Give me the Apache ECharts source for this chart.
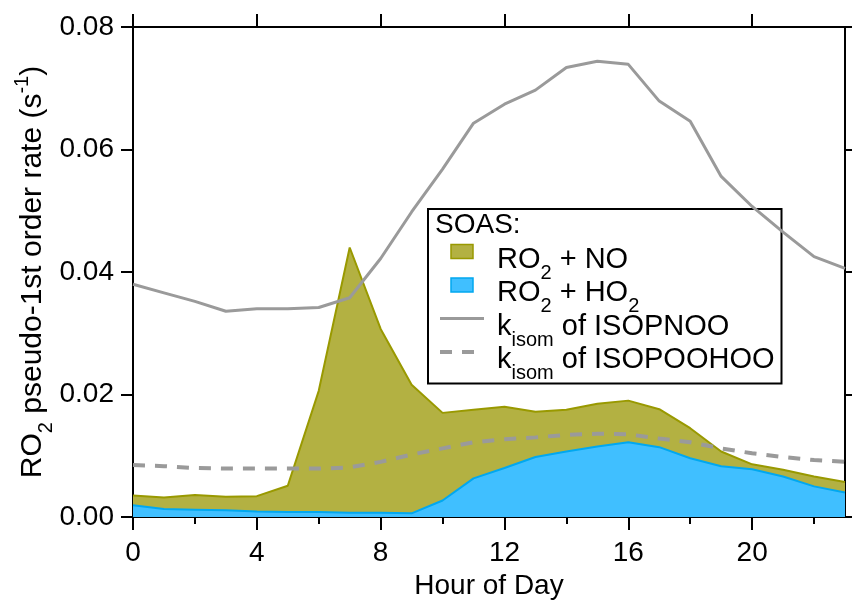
<!DOCTYPE html>
<html>
<head>
<meta charset="utf-8">
<script src="https://cdn.jsdelivr.net/npm/echarts@6/dist/echarts.min.js"></script>
<style>
    html, body { margin: 0; padding: 0; background: #fff; }
    #chart { width: 852px; height: 604px; }
</style>
</head>
<body>
<div id="chart"></div>
<script>
// Hour of day
const hours = [0, 1, 2, 3, 4, 5, 6, 7, 8, 9, 10, 11, 12, 13, 14, 15, 16, 17, 18, 19, 20, 21, 22, 23];

// SOAS RO2 + NO (top of olive area)
const ro2No = [0.0035, 0.0032, 0.0036, 0.0033, 0.0034, 0.0051, 0.0206, 0.0440, 0.0307, 0.0216, 0.0170, 0.0175,
    0.0180, 0.0172, 0.0175, 0.0185, 0.0190, 0.0176, 0.0145, 0.0107, 0.0086, 0.0077, 0.0066, 0.0057];

// SOAS RO2 + HO2 (blue area)
const ro2Ho2 = [0.0019, 0.0013, 0.0012, 0.0011, 0.0009, 0.0008, 0.0008, 0.0007, 0.0007, 0.0006, 0.0027, 0.0063,
    0.0080, 0.0098, 0.0107, 0.0115, 0.0122, 0.0114, 0.0096, 0.0083, 0.0078, 0.0066, 0.0050, 0.0040];

// k_isom of ISOPNOO
const kIsopnoo = [0.0380, 0.0366, 0.0352, 0.0336, 0.0340, 0.0340, 0.0342, 0.0358, 0.0422, 0.0498, 0.0568, 0.0643,
    0.0674, 0.0697, 0.0734, 0.0744, 0.0739, 0.0679, 0.0646, 0.0556, 0.0507, 0.0465, 0.0425, 0.0406];

// k_isom of ISOPOOHOO
const kIsopoohoo = [0.0085, 0.0083, 0.0080, 0.0079, 0.0079, 0.0079, 0.0079, 0.0081, 0.0090, 0.0102, 0.0112, 0.0122,
    0.0127, 0.0130, 0.0134, 0.0136, 0.0135, 0.0128, 0.0122, 0.0112, 0.0104, 0.0098, 0.0093, 0.0090];

// Tick values
const xMajorTicks = [0, 4, 8, 12, 16, 20];
const xMinorTicks = [0, 2, 4, 6, 8, 10, 12, 14, 16, 18, 20, 22];
const yTicks = [0, 0.02, 0.04, 0.06, 0.08];

const FONT = 'Liberation Sans, Arial, Helvetica, sans-serif';
const GRAY = '#9a9a9a';

const pairs = function (vals) {
    return hours.map((h, i) => [h, vals[i]]);
};

// rich text pieces for subscripts / superscripts (axis name)
const richAxis = {
    a: { fontSize: 30, lineHeight: 30, padding: [8, 0, 0, 0], verticalAlign: 'top', fontFamily: FONT, color: '#000' },
    s: { fontSize: 20, lineHeight: 20, padding: [26, 0, 0, 0], verticalAlign: 'top', fontFamily: FONT, color: '#000' },
    p: { fontSize: 20, lineHeight: 20, padding: [2, 0, 0, 0], verticalAlign: 'top', fontFamily: FONT, color: '#000' }
};

// legend
const richLegend = {
    a: { fontSize: 29, lineHeight: 29, padding: [8, 0, 0, 0], verticalAlign: 'top', fontFamily: FONT, color: '#000' },
    s: { fontSize: 20, lineHeight: 20, padding: [26, 0, 0, 0], verticalAlign: 'top', fontFamily: FONT, color: '#000' }
};

const legendLabels = {
    'RO2 + NO': '{a|RO}{s|2}{a| + NO}',
    'RO2 + HO2': '{a|RO}{s|2}{a| + HO}{s|2}',
    'kisom of ISOPNOO': '{a|k}{s|isom}{a| of ISOPNOO}',
    'kisom of ISOPOOHOO': '{a|k}{s|isom}{a| of ISOPOOHOO}'
};

const chart = echarts.init(document.getElementById('chart'), null, { renderer: 'canvas' });

const baseX = {
    type: 'value',
    min: 0,
    max: 23,
    gridIndex: 0,
    splitLine: { show: false },
    axisLine: { show: false },
    axisLabel: { show: false },
    axisTick: { inside: false, lineStyle: { color: '#000', width: 2 } }
};

chart.setOption({
    animation: false,
    backgroundColor: '#fff',
    textStyle: { fontFamily: FONT },

    title: {
        text: 'SOAS:',
        left: 435,
        top: 211,
        padding: 0,
        textStyle: { fontSize: 28, fontWeight: 'normal', color: '#000', fontFamily: FONT }
    },

    grid: { left: 133, right: 7, top: 27, bottom: 87, containLabel: false, outerBoundsMode: 'none' },

    legend: {
        orient: 'vertical',
        left: 428,
        top: 209,
        padding: [28, 7, 0, 10],
        itemGap: -12.5,
        itemWidth: 44,
        itemHeight: 14,
        borderColor: '#000',
        borderWidth: 2,
        backgroundColor: '#fff',
        selectedMode: false,
        formatter: name => legendLabels[name],
        textStyle: { color: '#000', fontFamily: FONT, padding: [0, 0, 0, 8], rich: richLegend },
        data: [
            { name: 'RO2 + NO', icon: 'path://M0,0H22V14H0Z',
              itemStyle: { color: '#b3b142', borderColor: '#999900', borderWidth: 1.5, opacity: 1 } },
            { name: 'RO2 + HO2', icon: 'path://M0,0H22V14H0Z',
              itemStyle: { color: '#40bfff', borderColor: '#00a8f0', borderWidth: 1.5, opacity: 1 } },
            { name: 'kisom of ISOPNOO', itemStyle: { opacity: 0 },
              lineStyle: { color: GRAY, width: 3, type: 'solid' } },
            { name: 'kisom of ISOPOOHOO', itemStyle: { opacity: 0 },
              lineStyle: { color: GRAY, width: 4, type: [12, 10] } }
        ]
    },

    xAxis: [
        // bottom, major ticks + labels
        Object.assign({}, baseX, {
            position: 'bottom',
            interval: 4,
            axisLine: { show: true, onZero: false, lineStyle: { color: '#000', width: 2 } },
            axisTick: { inside: false, length: 13, customValues: xMajorTicks, lineStyle: { color: '#000', width: 2 } },
            axisLabel: {
                show: true, fontSize: 28, color: '#000', margin: 22, fontFamily: FONT,
                customValues: xMajorTicks,
                formatter: v => (v % 4 === 0 ? String(v) : '')
            },
            name: 'Hour of Day',
            nameLocation: 'middle',
            nameGap: 52,
            nameTextStyle: { fontSize: 28, color: '#000', fontFamily: FONT }
        }),
        // bottom, minor ticks
        Object.assign({}, baseX, {
            position: 'bottom',
            interval: 2,
            axisTick: { inside: false, length: 7, customValues: xMinorTicks, lineStyle: { color: '#000', width: 2 } }
        }),
        // top, major ticks
        Object.assign({}, baseX, {
            position: 'top',
            interval: 4,
            axisLine: { show: true, onZero: false, lineStyle: { color: '#000', width: 2 } },
            axisTick: { inside: false, length: 13, customValues: xMajorTicks, lineStyle: { color: '#000', width: 2 } }
        }),
        // top, minor ticks
        Object.assign({}, baseX, {
            position: 'top',
            interval: 2,
            axisTick: { inside: false, length: 7, customValues: xMinorTicks, lineStyle: { color: '#000', width: 2 } }
        })
    ],

    yAxis: [
        {
            type: 'value',
            position: 'left',
            min: 0,
            max: 0.08,
            interval: 0.02,
            splitLine: { show: false },
            axisLine: { show: true, onZero: false, lineStyle: { color: '#000', width: 2 } },
            axisTick: { inside: false, length: 12, customValues: yTicks, lineStyle: { color: '#000', width: 2 } },
            axisLabel: {
                fontSize: 28, color: '#000', margin: 19, fontFamily: FONT,
                customValues: yTicks,
                formatter: v => v.toFixed(2)
            },
            name: '{a|RO}{s|2}{a| pseudo-1st order rate (s}{p|-1}{a|)}',
            nameLocation: 'middle',
            nameGap: 93,
            nameMoveOverlap: false,
            nameTextStyle: { rich: richAxis, fontFamily: FONT, color: '#000' }
        },
        {
            type: 'value',
            position: 'right',
            min: 0,
            max: 0.08,
            interval: 0.02,
            splitLine: { show: false },
            axisLine: { show: true, onZero: false, lineStyle: { color: '#000', width: 2 } },
            axisTick: { inside: false, length: 8, customValues: yTicks, lineStyle: { color: '#000', width: 2 } },
            axisLabel: { show: false }
        }
    ],

    series: [
        {
            name: 'RO2 + NO',
            type: 'line',
            xAxisIndex: 0,
            yAxisIndex: 0,
            data: pairs(ro2No),
            symbol: 'none',
            color: '#b3b142',
            lineStyle: { color: '#999900', width: 2 },
            areaStyle: { color: '#b3b142', opacity: 1 },
            z: 2
        },
        {
            name: 'RO2 + HO2',
            type: 'line',
            xAxisIndex: 0,
            yAxisIndex: 0,
            data: pairs(ro2Ho2),
            symbol: 'none',
            color: '#40bfff',
            lineStyle: { color: '#00a8f0', width: 2 },
            areaStyle: { color: '#40bfff', opacity: 1 },
            z: 3
        },
        {
            name: 'kisom of ISOPNOO',
            type: 'line',
            xAxisIndex: 0,
            yAxisIndex: 0,
            data: pairs(kIsopnoo),
            symbol: 'none',
            color: GRAY,
            lineStyle: { color: GRAY, width: 3 },
            z: 4
        },
        {
            name: 'kisom of ISOPOOHOO',
            type: 'line',
            xAxisIndex: 0,
            yAxisIndex: 0,
            data: pairs(kIsopoohoo),
            symbol: 'none',
            color: GRAY,
            lineStyle: { color: GRAY, width: 4, type: [12, 10] },
            z: 4
        }
    ]
});
</script>
</body>
</html>
